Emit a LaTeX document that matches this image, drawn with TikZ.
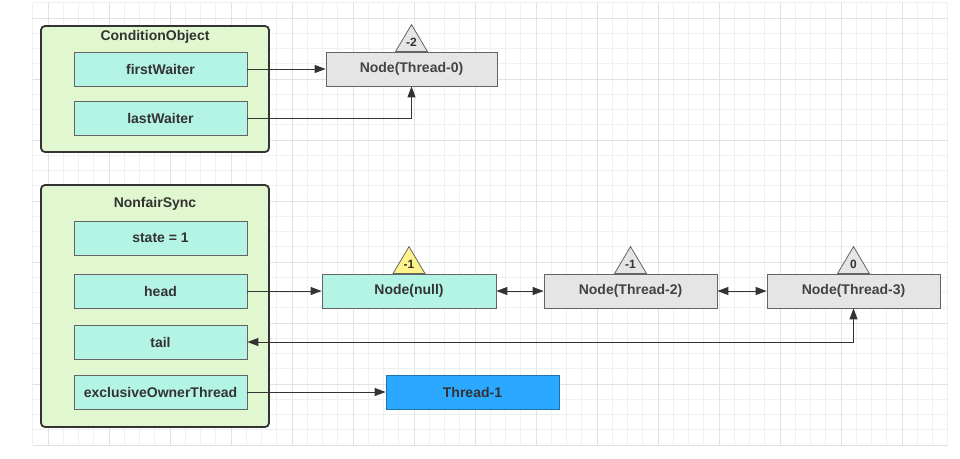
\documentclass[tikz,border=0pt]{standalone}
\usepackage{fontspec}
\setmainfont{Liberation Sans}
\usepackage{xcolor}
\usepackage{tikz}
\usetikzlibrary{calc,arrows.meta,positioning}
\definecolor{holderGreen}{RGB}{224,247,207}
\definecolor{fieldCyan}{RGB}{180,244,228}
\definecolor{queueGray}{RGB}{229,229,229}
\definecolor{ownerBlue}{RGB}{43,168,255}
\definecolor{ownerBlueDark}{RGB}{30,115,175}
\definecolor{markYellow}{RGB}{255,244,140}
\definecolor{inkDark}{RGB}{51,51,51}
\definecolor{edgeGray}{RGB}{100,100,100}
\definecolor{gridMinor}{RGB}{240,240,240}
\definecolor{gridMajor}{RGB}{226,226,226}

% small triangle with the waitStatus value on top of a queue node
\newcommand{\stateTri}[4]{%
  \draw[triEdge, fill=#2] ([xshift=-16pt]#1.north) -- ([yshift=27pt]#1.north)
      -- ([xshift=16pt]#1.north) -- cycle;
  \node[triText] (#4) at ([yshift=9pt]#1.north) {#3};}

\begin{document}
\begin{tikzpicture}[x=1pt,y=-1pt,
    holder/.style={draw=inkDark, line width=1.8pt, rounded corners=4pt, fill=holderGreen},
    holderTitle/.style={text=inkDark, font=\bfseries\fontsize{14}{16}\selectfont},
    field/.style={draw=edgeGray, line width=0.8pt, fill=fieldCyan, minimum width=173,
        minimum height=34, inner sep=0pt, text=inkDark, font=\bfseries\fontsize{14}{16}\selectfont},
    qnode/.style={field, fill=queueGray, text=inkDark!92},
    triEdge/.style={draw=edgeGray, line width=0.8pt, line join=miter},
    triText/.style={text=inkDark, inner sep=0pt, font=\bfseries\fontsize{12}{13}\selectfont},
    link/.style={draw=inkDark, line width=0.9pt, -{Triangle[length=11pt,width=8pt]}},
    biLink/.style={link, {Triangle[length=11pt,width=8pt]}-{Triangle[length=11pt,width=8pt]}}]

    \useasboundingbox[fill=white] (0,0) rectangle (960,458);

    % background grid
    \foreach \i in {0,...,60}
        \draw[gridMinor, line width=0.6pt] ({32.75+15.25*\i},2.75) -- ({32.75+15.25*\i},445);
    \foreach \j in {0,...,29}
        \draw[gridMinor, line width=0.6pt] (32.75,{2.75+15.25*\j}) -- (948.25,{2.75+15.25*\j});
    \foreach \i in {1,5,...,57}
        \draw[gridMajor, line width=0.8pt] ({32.75+15.25*\i},2.75) -- ({32.75+15.25*\i},445);
    \foreach \j in {1,5,...,29}
        \draw[gridMajor, line width=0.8pt] (32.75,{2.75+15.25*\j}) -- (948.25,{2.75+15.25*\j});

    % ConditionObject
    \node[holder, minimum width=228, minimum height=126] (condObj) at (155,89) {};
    \node[holderTitle] (condTitle) at (155,37) {ConditionObject};
    \node[field] (firstW) at (160.5,69) {firstWaiter};
    \node[field] (lastW) at (160.5,118) {lastWaiter};

    % NonfairSync
    \node[holder, minimum width=228, minimum height=242] (sync) at (155,306) {};
    \node[holderTitle] (syncTitle) at (155,204) {NonfairSync};
    \node[field] (state) at (160.5,238) {state = 1};
    \node[field] (head) at (160.5,291) {head};
    \node[field] (tail) at (160.5,342) {tail};
    \node[field] (owner) at (160.5,392) {exclusiveOwnerThread};

    % condition queue
    \node[qnode, minimum width=171] (nT0) at (411.5,69) {Node(Thread-0)};
    \stateTri{nT0}{queueGray}{-2}{mT0}

    % sync queue
    \node[field, minimum width=174] (nNull) at (409,291) {Node(null)};
    \node[qnode, minimum width=173] (nT2) at (630.5,291) {Node(Thread-2)};
    \node[qnode, minimum width=173] (nT3) at (853.5,291) {Node(Thread-3)};
    \stateTri{nNull}{markYellow}{-1}{mNull}
    \stateTri{nT2}{queueGray}{-1}{mT2}
    \stateTri{nT3}{queueGray}{0}{mT3}

    \node[field, fill=ownerBlue, draw=ownerBlueDark] (thr1) at (472.5,392) {Thread-1};

    % pointers
    \draw[link] (firstW.east) -- (nT0.west);
    \draw[link] (lastW.east) -| (nT0.south);
    \draw[link] (head.east) -- (nNull.west);
    \draw[biLink] (nNull.east) -- (nT2.west);
    \draw[biLink] (nT2.east) -- (nT3.west);
    \draw[biLink] (tail.east) -| (nT3.south);
    \draw[link] (owner.east) -- (thr1.west);
\end{tikzpicture}
\end{document}
